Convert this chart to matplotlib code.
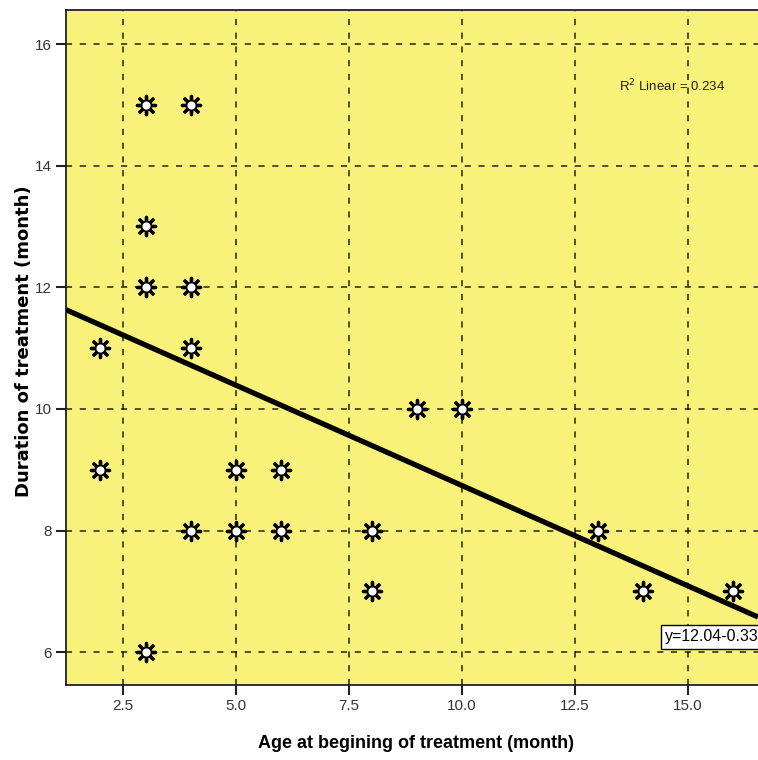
import numpy as np
import matplotlib
matplotlib.use("Agg")
import matplotlib.pyplot as plt

# data
age_months = [3, 4, 3, 3, 4, 2, 4, 2, 5, 6, 9, 10, 4, 5, 6, 8, 13, 8, 14, 16, 3]
duration_months = [15, 15, 13, 12, 12, 11, 11, 9, 9, 9, 10, 10, 8, 8, 8, 8, 8, 7, 7, 7, 6]
fit_intercept = 12.04
fit_slope = -0.33
r_squared = 0.234
x_ticks = [2.5, 5.0, 7.5, 10.0, 12.5, 15.0]
y_ticks = [6, 8, 10, 12, 14, 16]

SANS = ["Liberation Sans", "DejaVu Sans"]

fig = plt.figure(figsize=(7.58, 7.60), dpi=100)
ax = fig.add_axes([66 / 758, 75 / 760, 1 - 66 / 758, 675 / 760])
ax.set_facecolor("#f9f27a")

ax.set_xlim(1.24, 16.55)
ax.set_ylim(5.46, 16.56)

# grid
ax.set_xticks(x_ticks)
ax.set_yticks(y_ticks)
ax.set_xticklabels(["%.1f" % t for t in x_ticks])
ax.set_yticklabels([str(t) for t in y_ticks])
ax.grid(True, color="black", linestyle=(0, (4, 5)), linewidth=1.1, alpha=0.85)
ax.set_axisbelow(True)

# regression line
xx = np.array(ax.get_xlim())
ax.plot(xx, fit_intercept + fit_slope * xx, color="black", lw=3.8, zorder=3,
        solid_capstyle="butt")

# star markers: black spokes with white centre
ax.scatter(age_months, duration_months, marker=(8, 2, 0), s=170,
           color="black", linewidths=2.4, zorder=4)
ax.scatter(age_months, duration_months, marker="o", s=50, facecolor="white",
           edgecolor="black", linewidths=1.2, zorder=5)

# annotations
ax.text(13.48, 15.31, "R$^2$ Linear = %.3f" % r_squared, fontsize=9.5,
        family=SANS, color="#222222", va="center", ha="left",
        math_fontfamily="dejavusans")
# the equation box runs off the right edge, as in the original
ax.text(14.5, 6.25, "y=%.2f%.2f*x" % (fit_intercept, fit_slope), fontsize=11.5,
        family=SANS, color="black", va="center", ha="left", zorder=6,
        bbox=dict(boxstyle="square,pad=0.3", fc="white", ec="black", lw=1))

# spines and ticks
for side in ["left", "bottom", "top"]:
    ax.spines[side].set_color("#222222")
    ax.spines[side].set_linewidth(1.3)
ax.spines["right"].set_visible(False)
ax.tick_params(direction="out", length=7, width=1.5, color="#222222",
               labelsize=11, labelcolor="#333333", pad=3)
for lbl in ax.get_xticklabels() + ax.get_yticklabels():
    lbl.set_family(SANS)

ax.set_xlabel("Age at begining of treatment (month)", fontsize=13,
              fontweight="bold", family=SANS)
ax.set_ylabel("Duration of treatment (month)", fontsize=13,
              fontweight="bold", family="DejaVu Sans")
ax.xaxis.set_label_coords(0.506, -0.074)
ax.yaxis.set_label_coords(-0.048, 0.51)

fig.savefig("out.png", dpi=100, facecolor="white")
